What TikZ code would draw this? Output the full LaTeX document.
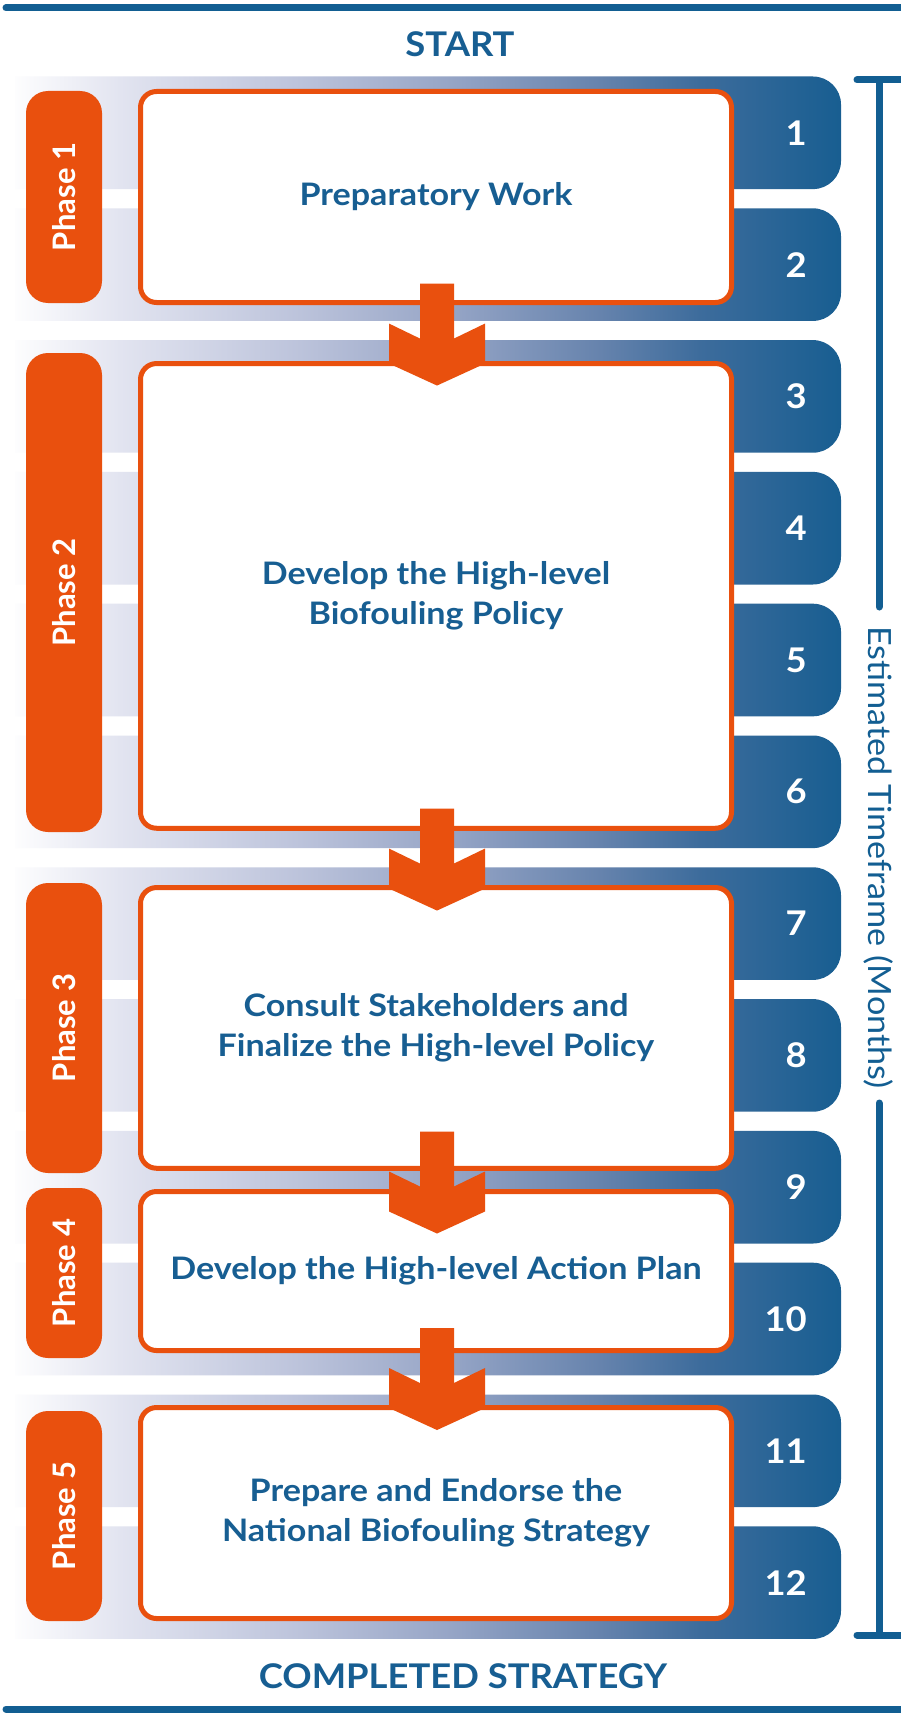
\documentclass[tikz,border=0pt]{standalone}
\usepackage{fontspec}
\setmainfont{Lato}
\newfontfamily\widefont{Lato}[FakeStretch=1.1]
\newfontfamily\midfont{Lato}[FakeStretch=1.07]
\definecolor{navy}{HTML}{175E92}
\definecolor{tline}{HTML}{125E92}
\definecolor{orng}{HTML}{E9500E}
\definecolor{g0}{HTML}{FDFDFE}
\definecolor{g1}{HTML}{E2E4F0}
\definecolor{g2}{HTML}{BCC3DB}
\definecolor{g3}{HTML}{96A5C6}
\definecolor{g4}{HTML}{6683AD}
\definecolor{g5}{HTML}{3D6C9C}
\definecolor{g6}{HTML}{185E91}
\pgfdeclarehorizontalshading{bandshade}{100bp}{color(0bp)=(g0); color(25bp)=(g0); color(31.35bp)=(g1); color(42.25bp)=(g2); color(51.35bp)=(g3); color(60.4bp)=(g4); color(66.45bp)=(g5); color(75bp)=(g6); color(100bp)=(g6)}
\tikzset{
  box/.style={draw=orng, line width=5pt, fill=white, rounded corners=16pt, minimum width=591pt, inner sep=0pt, align=center, text=navy, font=\widefont\fontsize{31}{40}\selectfont\bfseries},
  pill/.style={fill=orng, rounded corners=22pt, minimum height=76pt, inner sep=0pt, text=white, font=\fontsize{31}{36}\selectfont\bfseries, rotate=90},
  num/.style={anchor=east, inner sep=0pt, text=white, font=\midfont\fontsize{34}{36}\selectfont\bfseries},
  tl/.style={draw=tline, line width=7pt, line cap=round},
  heading/.style={inner sep=0pt, text=navy, font=\midfont\fontsize{34}{38}\selectfont\bfseries},
  blockarrow/.pic={\fill[orng] (-17,-102) -- (17,-102) -- (17,-47) -- (48,-62) -- (48,-22) -- (0,0) -- (-48,-22) -- (-48,-62) -- (-17,-47) -- cycle;}
}
\begin{document}
\begin{tikzpicture}[x=1pt,y=-1pt]
\useasboundingbox (0,0) rectangle (901,1715);
\fill[white] (0,0) rectangle (901,1715);
% month bands
\foreach \k in {1,...,12}{
  \pgfmathsetmacro\bt{76.5+(\k-1)*131.8}
  \pgfmathsetmacro\bb{\bt+112.6}
  \pgfmathsetmacro\bc{\bt+56.3}
  \shade[shading=bandshade] (15,\bt) -- (813,\bt) arc[start angle=-90,end angle=0,radius=28] -- (841,\bb-28) arc[start angle=0,end angle=90,radius=28] -- (15,\bb) -- cycle;
  \node[num] (n\k) at (807,\bc) {\k};
}
% phase pills
\node[pill, minimum width=212pt] (p1) at (64,197) {Phase 1};
\node[pill, minimum width=479pt] (p2) at (64,592.5) {Phase 2};
\node[pill, minimum width=290pt] (p3) at (64,1028) {Phase 3};
\node[pill, minimum width=170pt] (p4) at (64,1273) {Phase 4};
\node[pill, minimum width=210pt] (p5) at (64,1516) {Phase 5};
% step boxes
\node[box, minimum height=211pt] (b1) at (436,197) {Preparatory Work};
\node[box, minimum height=464.7pt] (b2) at (436,595.9) {Develop the High-level\\Biofouling Policy};
\node[box, minimum height=280.7pt] (b3) at (436,1027.9) {Consult Stakeholders and\\Finalize the High-level Policy};
\node[box, minimum height=159pt] (b4) at (436,1271) {Develop the High-level Action Plan};
\node[box, minimum height=211pt] (b5) at (436,1513) {Prepare and Endorse the\\National Biofouling Strategy};
% arrows
\pic at ([xshift=1pt,yshift=-24.5pt]b2.north) {blockarrow};
\pic at ([xshift=1pt,yshift=-25.5pt]b3.north) {blockarrow};
\pic at ([xshift=1pt,yshift=-44.5pt]b4.north) {blockarrow};
\pic at ([xshift=1pt,yshift=-25pt]b5.north) {blockarrow};
% headings and rules
\draw[tl] (6,8) -- (905,8);
\draw[tl] (6,1709) -- (905,1709);
\node[heading] (start) at (460,44) {START};
\node[heading] (done) at (463,1676) {COMPLETED STRATEGY};
% timeline
\coordinate (ttop) at (879,80);
\coordinate (tbot) at (879,1635);
\node[inner sep=0pt, rotate=-90, text=tline, font=\midfont\fontsize{32}{36}\selectfont] (tt) at (879,857.5) {Estimated Timeframe (Months)};
\draw[tl] (857,80) -- (905,80);
\draw[tl] (857,1635) -- (905,1635);
\draw[tl] (ttop) -- (879,607);
\draw[tl] (879,1103) -- (tbot);
\end{tikzpicture}
\end{document}
